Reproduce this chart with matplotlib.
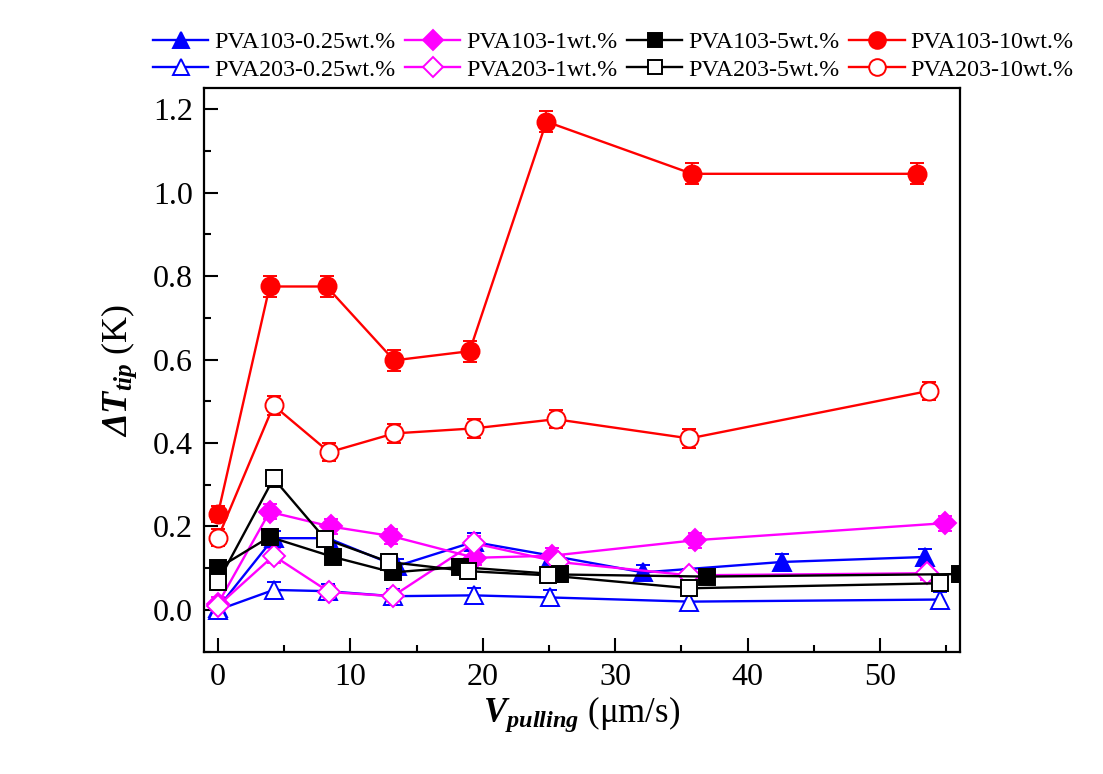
import matplotlib
matplotlib.use('Agg')
from matplotlib import pyplot as plt
from matplotlib.lines import Line2D
from matplotlib.ticker import MultipleLocator, FormatStrFormatter

plt.rcParams['font.family'] = 'Liberation Serif'
plt.rcParams['mathtext.fontset'] = 'custom'
plt.rcParams['mathtext.rm'] = 'Liberation Serif'
plt.rcParams['mathtext.it'] = 'Liberation Serif:italic'
plt.rcParams['mathtext.bf'] = 'Liberation Serif:bold'
plt.rcParams['mathtext.bfit'] = 'Liberation Serif:italic:bold'

# Valeurs : vitesse de tirage (um/s) et surfusion (K)
x_103_025 = [0, 4.2, 8.3, 13.5, 19.3, 25.2, 32.1, 42.6, 53.4]
y_103_025 = [0.005, 0.172, 0.172, 0.105, 0.163, 0.13, 0.09, 0.115, 0.127]
e_103_025 = [0.018, 0.018, 0.018, 0.018, 0.022, 0.018, 0.018, 0.018, 0.02]

x_203_025 = [0, 4.2, 8.3, 13.2, 19.3, 25.1, 35.6, 54.5]
y_203_025 = [0.0, 0.048, 0.045, 0.033, 0.035, 0.03, 0.02, 0.025]
e_203_025 = [0.018, 0.018, 0.018, 0.018, 0.018, 0.018, 0.018, 0.018]

x_103_1 = [0, 3.9, 8.5, 13.1, 19.4, 25.2, 36.0, 54.9]
y_103_1 = [0.015, 0.235, 0.2, 0.177, 0.125, 0.13, 0.167, 0.208]
e_103_1 = [0.015, 0.018, 0.018, 0.018, 0.018, 0.018, 0.018, 0.018]

x_203_1 = [0, 4.2, 8.4, 13.2, 19.3, 25.7, 35.6, 53.5]
y_203_1 = [0.01, 0.13, 0.043, 0.033, 0.16, 0.115, 0.083, 0.088]
e_203_1 = [0.015, 0.018, 0.015, 0.015, 0.018, 0.015, 0.015, 0.015]

x_103_5 = [0, 3.9, 8.7, 13.2, 18.3, 25.8, 36.9, 56.0]
y_103_5 = [0.1, 0.175, 0.127, 0.09, 0.103, 0.085, 0.08, 0.086]
e_103_5 = [0.018, 0.018, 0.018, 0.018, 0.018, 0.018, 0.018, 0.018]

x_203_5 = [0, 4.2, 8.1, 12.9, 18.9, 24.9, 35.6, 54.5]
y_203_5 = [0.067, 0.315, 0.17, 0.115, 0.093, 0.083, 0.052, 0.064]
e_203_5 = [0.02, 0.02, 0.018, 0.018, 0.018, 0.018, 0.018, 0.018]

x_103_10 = [0, 3.9, 8.2, 13.3, 19.0, 24.8, 35.8, 52.8]
y_103_10 = [0.23, 0.775, 0.775, 0.598, 0.62, 1.17, 1.045, 1.045]
e_103_10 = [0.02, 0.025, 0.025, 0.025, 0.025, 0.025, 0.025, 0.025]

x_203_10 = [0, 4.2, 8.4, 13.3, 19.3, 25.5, 35.6, 53.7]
y_203_10 = [0.173, 0.49, 0.378, 0.423, 0.435, 0.457, 0.411, 0.525]
e_203_10 = [0.02, 0.022, 0.022, 0.022, 0.022, 0.022, 0.022, 0.022]

# (etiquette, x, y, erreur, marqueur, couleur, plein, taille)
series = [
    ('PVA103-0.25wt.%', x_103_025, y_103_025, e_103_025, '^', '#0000FF', True, 13),
    ('PVA203-0.25wt.%', x_203_025, y_203_025, e_203_025, '^', '#0000FF', False, 13),
    ('PVA103-1wt.%', x_103_1, y_103_1, e_103_1, 'D', '#FF00FF', True, 11),
    ('PVA203-1wt.%', x_203_1, y_203_1, e_203_1, 'D', '#FF00FF', False, 11),
    ('PVA103-5wt.%', x_103_5, y_103_5, e_103_5, 's', '#000000', True, 11),
    ('PVA203-5wt.%', x_203_5, y_203_5, e_203_5, 's', '#000000', False, 11),
    ('PVA103-10wt.%', x_103_10, y_103_10, e_103_10, 'o', '#FF0000', True, 13),
    ('PVA203-10wt.%', x_203_10, y_203_10, e_203_10, 'o', '#FF0000', False, 13),
]

fig, ax = plt.subplots(figsize=(11.03, 7.74), dpi=100)
fig.subplots_adjust(left=0.185, right=0.870, top=0.886, bottom=0.158)

handles = []
for label, x, y, err, m, c, plein, ms in series:
    fond = c if plein else 'white'
    ax.errorbar(x, y, yerr=err, marker=m, color=c, ms=ms, lw=1.7,
                mfc=fond, mec=c, mew=1.4,
                elinewidth=1.4, capsize=5, capthick=1.4)
    # entree de legende sans barre d'erreur
    handles.append(Line2D([], [], marker=m, color=c, ms=ms - 1, lw=1.7,
                          mfc=fond, mec=c, mew=1.4, label=label))

ax.set_xlim(-1.05, 56)
ax.set_ylim(-0.1, 1.25)
ax.xaxis.set_major_locator(MultipleLocator(10))
ax.xaxis.set_minor_locator(MultipleLocator(5))
ax.yaxis.set_major_locator(MultipleLocator(0.2))
ax.yaxis.set_minor_locator(MultipleLocator(0.1))
ax.yaxis.set_major_formatter(FormatStrFormatter('%.1f'))
ax.tick_params(which='both', direction='in', width=1.5, labelsize=23, pad=8)
ax.tick_params(which='major', length=10)
ax.tick_params(which='minor', length=5)
for s in ax.spines.values():
    s.set_linewidth(1.6)

ax.set_xlabel(r'$\mathbfit{V}_{\mathbfit{pulling}}$ (μm/s)', fontsize=25, labelpad=2)
ax.set_ylabel(r'$\mathbfit{ΔT}_{\mathbfit{tip}}$ (K)', fontsize=26, labelpad=10)

fig.legend(handles=handles, loc='upper center', bbox_to_anchor=(0.556, 1.0),
           ncol=4, frameon=False, fontsize=17.3, handlelength=2.3,
           handletextpad=0.25, columnspacing=0.4, labelspacing=0.25,
           borderaxespad=0.9)

plt.savefig('out.png')
